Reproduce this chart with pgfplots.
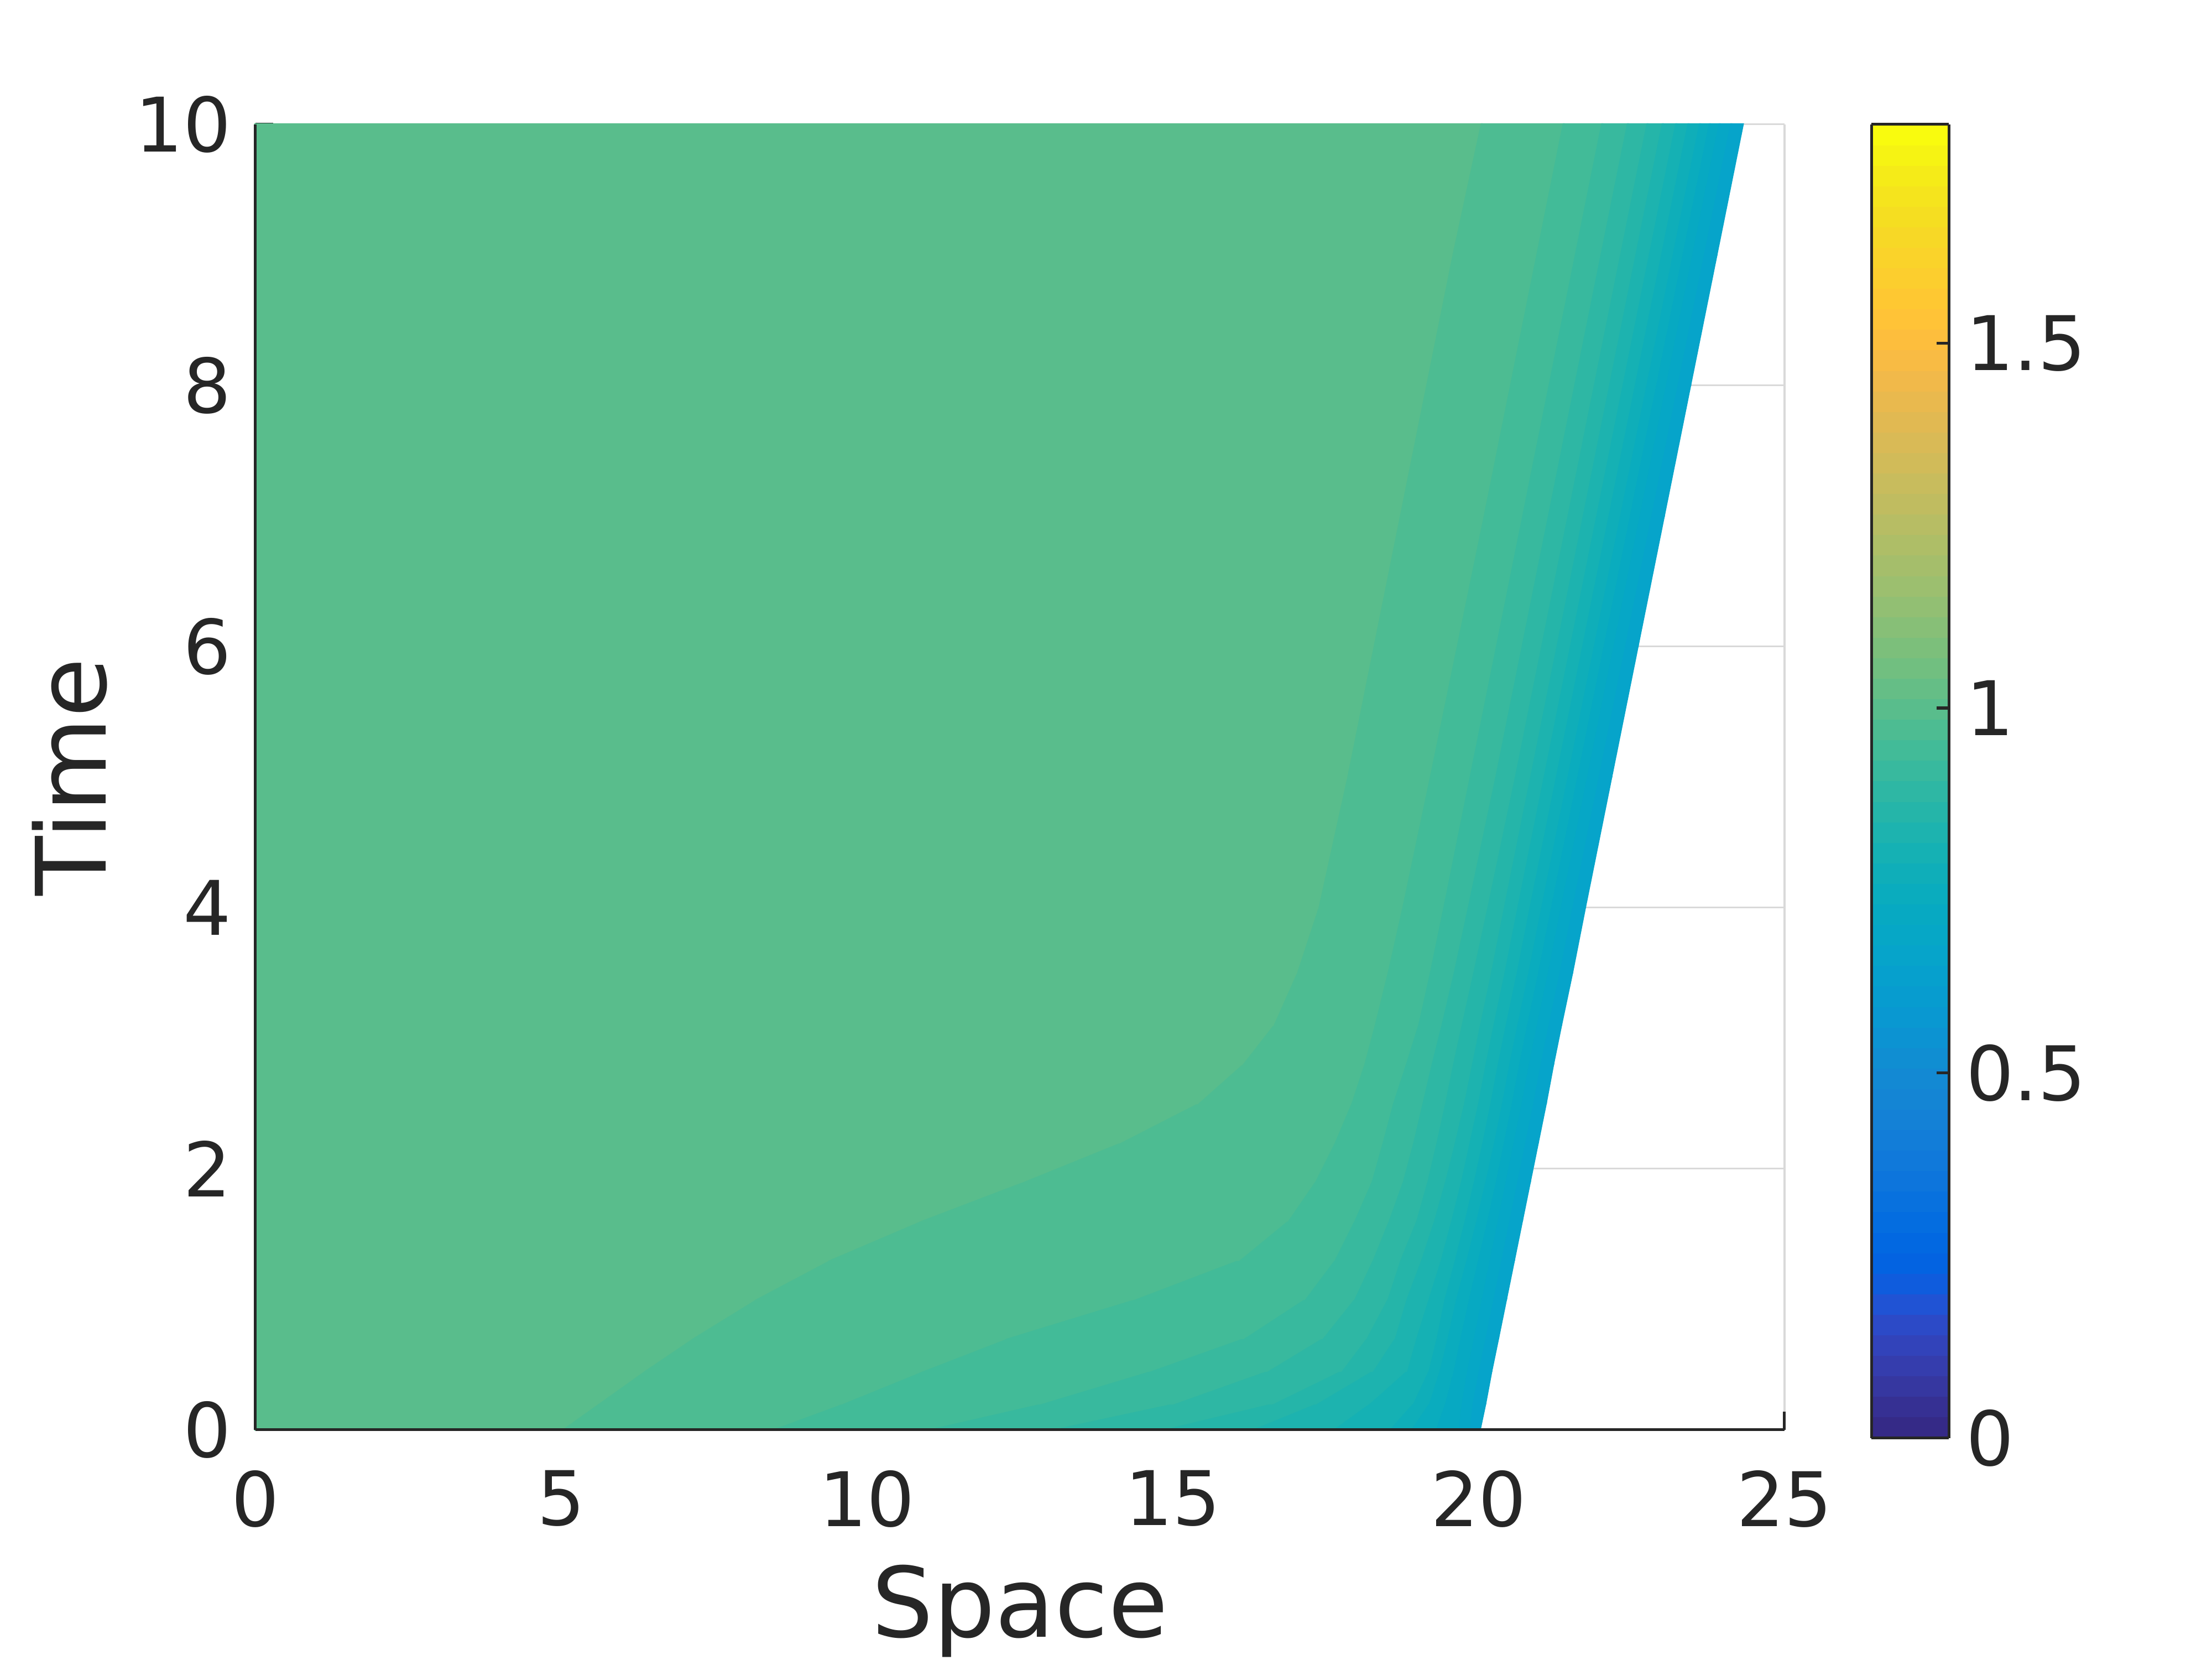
\documentclass[border=0pt]{standalone}
\usepackage{fontspec}
\setmainfont{DejaVu Sans}
\usepackage{pgfplots}
\pgfplotsset{compat=1.18}
\usepackage{pgfplotstable}

\pgfplotsset{
  % grid < colorbar shading < ticks < surface (pre main) < axis lines
  layers/gridbelow/.define layer set={axis background,axis grid,main,axis ticks,pre main,axis lines,axis tick labels,axis descriptions,axis foreground}{/pgfplots/layers/standard},
  colormap={parula}{
    rgb=(0.2081,0.1663,0.5292) rgb=(0.2116,0.1898,0.5777) rgb=(0.2123,0.2138,0.6270) rgb=(0.2081,0.2386,0.6771)
    rgb=(0.1959,0.2645,0.7279) rgb=(0.1707,0.2919,0.7792) rgb=(0.1253,0.3242,0.8303) rgb=(0.0591,0.3598,0.8683)
    rgb=(0.0117,0.3875,0.8820) rgb=(0.0060,0.4086,0.8828) rgb=(0.0165,0.4266,0.8786) rgb=(0.0329,0.4430,0.8720)
    rgb=(0.0498,0.4586,0.8641) rgb=(0.0629,0.4737,0.8554) rgb=(0.0723,0.4887,0.8467) rgb=(0.0779,0.5040,0.8384)
    rgb=(0.0793,0.5200,0.8312) rgb=(0.0749,0.5375,0.8263) rgb=(0.0641,0.5570,0.8240) rgb=(0.0488,0.5772,0.8228)
    rgb=(0.0343,0.5966,0.8199) rgb=(0.0265,0.6137,0.8135) rgb=(0.0239,0.6287,0.8038) rgb=(0.0231,0.6418,0.7913)
    rgb=(0.0228,0.6535,0.7768) rgb=(0.0267,0.6642,0.7607) rgb=(0.0384,0.6743,0.7436) rgb=(0.0590,0.6838,0.7254)
    rgb=(0.0843,0.6928,0.7062) rgb=(0.1133,0.7015,0.6859) rgb=(0.1453,0.7098,0.6646) rgb=(0.1801,0.7177,0.6424)
    rgb=(0.2178,0.7250,0.6193) rgb=(0.2586,0.7317,0.5954) rgb=(0.3022,0.7376,0.5712) rgb=(0.3482,0.7424,0.5473)
    rgb=(0.3953,0.7459,0.5244) rgb=(0.4420,0.7481,0.5033) rgb=(0.4871,0.7491,0.4840) rgb=(0.5300,0.7491,0.4661)
    rgb=(0.5709,0.7485,0.4494) rgb=(0.6099,0.7473,0.4337) rgb=(0.6473,0.7456,0.4188) rgb=(0.6834,0.7435,0.4044)
    rgb=(0.7184,0.7411,0.3905) rgb=(0.7525,0.7384,0.3768) rgb=(0.7858,0.7356,0.3633) rgb=(0.8185,0.7327,0.3498)
    rgb=(0.8507,0.7299,0.3360) rgb=(0.8824,0.7274,0.3217) rgb=(0.9139,0.7258,0.3063) rgb=(0.9450,0.7261,0.2886)
    rgb=(0.9739,0.7314,0.2666) rgb=(0.9938,0.7455,0.2403) rgb=(0.9990,0.7653,0.2164) rgb=(0.9955,0.7861,0.1967)
    rgb=(0.9880,0.8066,0.1794) rgb=(0.9789,0.8271,0.1633) rgb=(0.9697,0.8481,0.1475) rgb=(0.9626,0.8705,0.1309)
    rgb=(0.9589,0.8949,0.1132) rgb=(0.9598,0.9218,0.0948) rgb=(0.9661,0.9514,0.0755) rgb=(0.9763,0.9831,0.0538)
  },
}

% solution on the moving domain: each scanline is one time level,
% points sit on the contour crossings
\pgfplotstableread[row sep=\\]{
x t u\\
0 0 0.998\\ 5.05 0 0.9874\\ 8.51 0 0.9593\\ 11.08 0 0.9311\\ 13.11 0 0.903\\ 14.92 0 0.8749\\ 16.35 0 0.8468\\ 17.66 0 0.8186\\ 18.57 0 0.7905\\ 18.92 0 0.7624\\ 19.32 0 0.7343\\ 19.69 0 0.7061\\ 19.87 0 0.678\\ 20.02 0 0.655\\
0 0.2 0.998\\ 5.65 0.2 0.9874\\ 9.67 0.2 0.9593\\ 12.94 0.2 0.9311\\ 15.10 0.2 0.903\\ 16.70 0.2 0.8749\\ 17.40 0.2 0.8468\\ 18.25 0.2 0.8186\\ 18.95 0.2 0.7905\\ 19.21 0.2 0.7624\\ 19.47 0.2 0.7343\\ 19.74 0.2 0.7061\\ 19.92 0.2 0.678\\ 20.11 0.2 0.655\\
0 0.45 0.998\\ 6.40 0.45 0.9874\\ 10.98 0.45 0.9593\\ 14.71 0.45 0.9311\\ 16.60 0.45 0.903\\ 17.79 0.45 0.8749\\ 18.30 0.45 0.8468\\ 18.85 0.45 0.8186\\ 19.20 0.45 0.7905\\ 19.38 0.45 0.7624\\ 19.61 0.45 0.7343\\ 19.83 0.45 0.7061\\ 20.02 0.45 0.678\\ 20.21 0.45 0.655\\
0 0.7 0.998\\ 7.19 0.7 0.9874\\ 12.36 0.7 0.9593\\ 16.21 0.7 0.9311\\ 17.48 0.7 0.903\\ 18.19 0.7 0.8749\\ 18.65 0.7 0.8468\\ 19.00 0.7 0.8186\\ 19.33 0.7 0.7905\\ 19.51 0.7 0.7624\\ 19.72 0.7 0.7343\\ 19.94 0.7 0.7061\\ 20.13 0.7 0.678\\ 20.32 0.7 0.655\\
0 1.0 0.998\\ 8.23 1.0 0.9874\\ 14.45 1.0 0.9593\\ 17.19 1.0 0.9311\\ 17.99 1.0 0.903\\ 18.53 1.0 0.8749\\ 18.84 1.0 0.8468\\ 19.20 1.0 0.8186\\ 19.46 1.0 0.7905\\ 19.65 1.0 0.7624\\ 19.86 1.0 0.7343\\ 20.07 1.0 0.7061\\ 20.26 1.0 0.678\\ 20.45 1.0 0.655\\
0 1.3 0.998\\ 9.44 1.3 0.9874\\ 16.13 1.3 0.9593\\ 17.67 1.3 0.9311\\ 18.29 1.3 0.903\\ 18.74 1.3 0.8749\\ 19.08 1.3 0.8468\\ 19.40 1.3 0.8186\\ 19.63 1.3 0.7905\\ 19.82 1.3 0.7624\\ 20.01 1.3 0.7343\\ 20.20 1.3 0.7061\\ 20.39 1.3 0.678\\ 20.58 1.3 0.655\\
0 1.6 0.998\\ 10.94 1.6 0.9874\\ 16.91 1.6 0.9593\\ 17.99 1.6 0.9311\\ 18.55 1.6 0.903\\ 19.00 1.6 0.8749\\ 19.29 1.6 0.8468\\ 19.57 1.6 0.8186\\ 19.79 1.6 0.7905\\ 19.98 1.6 0.7624\\ 20.16 1.6 0.7343\\ 20.33 1.6 0.7061\\ 20.52 1.6 0.678\\ 20.71 1.6 0.655\\
0 1.9 0.998\\ 12.62 1.9 0.9874\\ 17.35 1.9 0.9593\\ 18.27 1.9 0.9311\\ 18.78 1.9 0.903\\ 19.18 1.9 0.8749\\ 19.47 1.9 0.8468\\ 19.73 1.9 0.8186\\ 19.94 1.9 0.7905\\ 20.13 1.9 0.7624\\ 20.30 1.9 0.7343\\ 20.46 1.9 0.7061\\ 20.65 1.9 0.678\\ 20.84 1.9 0.655\\
0 2.2 0.998\\ 14.20 2.2 0.9874\\ 17.67 2.2 0.9593\\ 18.45 2.2 0.9311\\ 18.95 2.2 0.903\\ 19.33 2.2 0.8749\\ 19.63 2.2 0.8468\\ 19.87 2.2 0.8186\\ 20.08 2.2 0.7905\\ 20.27 2.2 0.7624\\ 20.43 2.2 0.7343\\ 20.59 2.2 0.7061\\ 20.78 2.2 0.678\\ 20.97 2.2 0.655\\
0 2.5 0.998\\ 15.45 2.5 0.9874\\ 17.94 2.5 0.9593\\ 18.62 2.5 0.9311\\ 19.10 2.5 0.903\\ 19.47 2.5 0.8749\\ 19.78 2.5 0.8468\\ 20.01 2.5 0.8186\\ 20.21 2.5 0.7905\\ 20.40 2.5 0.7624\\ 20.56 2.5 0.7343\\ 20.72 2.5 0.7061\\ 20.91 2.5 0.678\\ 21.10 2.5 0.655\\
0 2.8 0.998\\ 16.17 2.8 0.9874\\ 18.15 2.8 0.9593\\ 18.83 2.8 0.9311\\ 19.25 2.8 0.903\\ 19.60 2.8 0.8749\\ 19.91 2.8 0.8468\\ 20.13 2.8 0.8186\\ 20.33 2.8 0.7905\\ 20.52 2.8 0.7624\\ 20.68 2.8 0.7343\\ 20.84 2.8 0.7061\\ 21.03 2.8 0.678\\ 21.22 2.8 0.655\\
0 3.1 0.998\\ 16.67 3.1 0.9874\\ 18.32 3.1 0.9593\\ 19.03 3.1 0.9311\\ 19.41 3.1 0.903\\ 19.74 3.1 0.8749\\ 20.04 3.1 0.8468\\ 20.26 3.1 0.8186\\ 20.46 3.1 0.7905\\ 20.65 3.1 0.7624\\ 20.81 3.1 0.7343\\ 20.97 3.1 0.7061\\ 21.16 3.1 0.678\\ 21.35 3.1 0.655\\
0 3.5 0.998\\ 17.05 3.5 0.9874\\ 18.53 3.5 0.9593\\ 19.22 3.5 0.9311\\ 19.61 3.5 0.903\\ 19.93 3.5 0.8749\\ 20.22 3.5 0.8468\\ 20.44 3.5 0.8186\\ 20.64 3.5 0.7905\\ 20.83 3.5 0.7624\\ 20.99 3.5 0.7343\\ 21.15 3.5 0.7061\\ 21.34 3.5 0.678\\ 21.53 3.5 0.655\\
0 4 0.998\\ 17.40 4 0.9874\\ 18.77 4 0.9593\\ 19.44 4 0.9311\\ 19.84 4 0.903\\ 20.16 4 0.8749\\ 20.43 4 0.8468\\ 20.65 4 0.8186\\ 20.85 4 0.7905\\ 21.04 4 0.7624\\ 21.20 4 0.7343\\ 21.36 4 0.7061\\ 21.55 4 0.678\\ 21.74 4 0.655\\
0 5 0.998\\ 17.87 5 0.9874\\ 19.22 5 0.9593\\ 19.87 5 0.9311\\ 20.29 5 0.903\\ 20.61 5 0.8749\\ 20.86 5 0.8468\\ 21.08 5 0.8186\\ 21.28 5 0.7905\\ 21.47 5 0.7624\\ 21.63 5 0.7343\\ 21.79 5 0.7061\\ 21.98 5 0.678\\ 22.17 5 0.655\\
0 6 0.998\\ 18.30 6 0.9874\\ 19.66 6 0.9593\\ 20.30 6 0.9311\\ 20.72 6 0.903\\ 21.04 6 0.8749\\ 21.29 6 0.8468\\ 21.51 6 0.8186\\ 21.71 6 0.7905\\ 21.90 6 0.7624\\ 22.06 6 0.7343\\ 22.22 6 0.7061\\ 22.41 6 0.678\\ 22.60 6 0.655\\
0 7 0.998\\ 18.73 7 0.9874\\ 20.10 7 0.9593\\ 20.73 7 0.9311\\ 21.15 7 0.903\\ 21.47 7 0.8749\\ 21.72 7 0.8468\\ 21.94 7 0.8186\\ 22.14 7 0.7905\\ 22.33 7 0.7624\\ 22.49 7 0.7343\\ 22.65 7 0.7061\\ 22.84 7 0.678\\ 23.03 7 0.655\\
0 8 0.998\\ 19.16 8 0.9874\\ 20.53 8 0.9593\\ 21.16 8 0.9311\\ 21.58 8 0.903\\ 21.90 8 0.8749\\ 22.15 8 0.8468\\ 22.37 8 0.8186\\ 22.57 8 0.7905\\ 22.76 8 0.7624\\ 22.92 8 0.7343\\ 23.08 8 0.7061\\ 23.27 8 0.678\\ 23.46 8 0.655\\
0 9 0.998\\ 19.59 9 0.9874\\ 20.96 9 0.9593\\ 21.59 9 0.9311\\ 22.01 9 0.903\\ 22.33 9 0.8749\\ 22.58 9 0.8468\\ 22.80 9 0.8186\\ 23.00 9 0.7905\\ 23.19 9 0.7624\\ 23.35 9 0.7343\\ 23.51 9 0.7061\\ 23.70 9 0.678\\ 23.89 9 0.655\\
0 10 0.998\\ 20.05 10 0.9874\\ 21.39 10 0.9593\\ 22.02 10 0.9311\\ 22.44 10 0.903\\ 22.76 10 0.8749\\ 23.01 10 0.8468\\ 23.23 10 0.8186\\ 23.43 10 0.7905\\ 23.62 10 0.7624\\ 23.78 10 0.7343\\ 23.94 10 0.7061\\ 24.13 10 0.678\\ 24.32 10 0.655\\
}\front

\begin{document}
\begin{tikzpicture}
\begin{axis}[
  set layers=gridbelow,
  scale only axis, width=11.06cm, height=9.44cm,
  xmin=0, xmax=25, ymin=0, ymax=10,
  xtick={0,5,...,25}, ytick={0,2,...,10},
  axis x line*=bottom, axis y line*=left,
  axis line style={black!85, line width=0.6pt},
  tick align=inside, major tick length=0.13cm,
  tick style={black!85, line width=0.6pt},
  grid=major, major grid style={gray!30, line width=0.4pt},
  /pgf/number format/assume math mode=true,
  tick label style={font=\fontsize{15.5}{18}\selectfont, color=black!85},
  xticklabel style={yshift=-0.17cm},
  yticklabel style={xshift=-0.05cm},
  label style={font=\fontsize{20}{24}\selectfont, color=black!85, inner sep=0pt},
  xlabel={Space}, ylabel={Time},
  xlabel style={at={(axis description cs:0.5,-0.159)}, anchor=base},
  ylabel style={at={(axis description cs:-0.0977,0.5)}, anchor=base},
  colormap name=parula,
  colormap access=piecewise constant,
  point meta min=0, point meta max=1.8,
  colorbar,
  colorbar style={
    at={(parent axis.north east)}, anchor=north west, xshift=0.33cm,
    scale only axis, width=0.56cm, height=9.5cm,
    ytick={0,0.5,1,1.5},
    ytick pos=right, yticklabel pos=right,
    tick align=inside, major tick length=0.09cm,
    axis line style={black!85, line width=0.6pt},
    tick style={black!85, line width=0.6pt},
    /pgf/number format/assume math mode=true,
    yticklabel style={font=\fontsize{15.5}{18}\selectfont, color=black!85},
  },
]
\addplot[surf, shader=flat mean, mesh/cols=14, point meta=explicit, on layer=pre main]
  table[x=x, y=t, meta=u] {\front};
\end{axis}
% page frame matching the reference margins
\path (-1.847,-1.663) rectangle (14.153,10.338);
\end{tikzpicture}
\end{document}
